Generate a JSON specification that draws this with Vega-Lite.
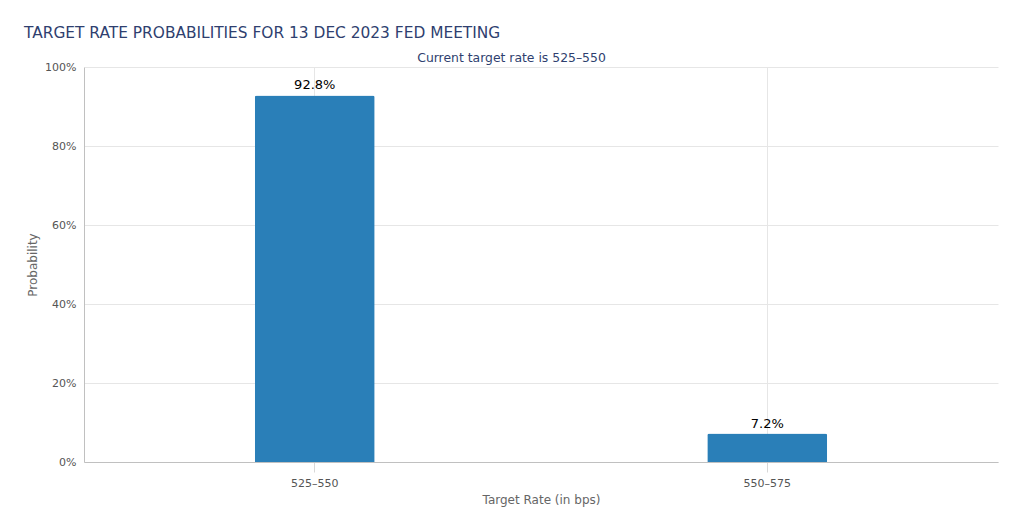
{
  "$schema": "https://vega.github.io/schema/vega-lite/v6.json",
  "width": 914,
  "height": 395,
  "autosize": {"type": "none"},
  "padding": {"left": 84, "top": 67, "right": 26, "bottom": 66},
  "background": "white",
  "config": {
    "font": "DejaVu Sans",
    "view": {"stroke": null},
    "axis": {"labelFont": "DejaVu Sans", "titleFont": "DejaVu Sans"}
  },
  "title": {
    "text": "TARGET RATE PROBABILITIES FOR 13 DEC 2023 FED MEETING",
    "anchor": "start",
    "frame": "group",
    "dx": -60,
    "offset": 10,
    "fontSize": 15.4,
    "fontWeight": "normal",
    "color": "#2f3f6f",
    "font": "DejaVu Sans"
  },
  "data": {
    "values": [
      {"rate": "525-550", "label": "525–550", "prob": 0.928, "txt": "92.8%"},
      {"rate": "550-575", "label": "550–575", "prob": 0.072, "txt": "7.2%"}
    ]
  },
  "resolve": {"axis": {"x": "independent", "y": "independent"}},
  "layer": [
    {
      "mark": {"type": "bar", "color": "#2a7fb8", "width": {"band": 0.265}, "cornerRadiusTopLeft": 2, "cornerRadiusTopRight": 2},
      "encoding": {
        "x": {
          "field": "label", "type": "nominal", "sort": null,
          "scale": {"paddingInner": 0, "paddingOuter": 0.01},
          "axis": {
            "title": "Target Rate (in bps)", "labelAngle": 0, "labelFontSize": 11, "labelColor": "#555555",
            "labelPadding": 5, "titleFontSize": 12, "titleFontWeight": "normal", "titleColor": "#666666",
            "titlePadding": 6, "domainColor": "#c0c0c0", "tickColor": "#d8d8d8", "tickSize": 10,
            "grid": true, "gridColor": "#e6e6e6", "bandPosition": 0.5
          }
        },
        "y": {
          "field": "prob", "type": "quantitative",
          "scale": {"domain": [0, 1], "nice": false},
          "axis": {
            "title": "Probability", "format": ".0%", "values": [0, 0.2, 0.4, 0.6, 0.8, 1],
            "labelFontSize": 11, "labelColor": "#555555", "labelPadding": 8,
            "titleFontSize": 12, "titleFontWeight": "normal", "titleColor": "#666666", "titlePadding": 5,
            "domainColor": "#c0c0c0", "ticks": false, "gridColor": "#e6e6e6"
          }
        }
      }
    },
    {
      "mark": {"type": "text", "baseline": "bottom", "dy": -3, "fontSize": 13, "color": "#000000"},
      "encoding": {
        "x": {
          "field": "label", "type": "nominal", "sort": null,
          "axis": {
            "orient": "top", "labels": false, "ticks": false, "domain": false, "grid": false,
            "title": "Current target rate is 525–550",
            "titleAnchor": "middle", "titleAlign": "center", "titleBaseline": "alphabetic",
            "titleX": 427, "titleY": -6, "titleFontSize": 12.4, "titleFontWeight": "normal",
            "titleColor": "#2f3f6f"
          }
        },
        "y": {"field": "prob", "type": "quantitative", "axis": null},
        "text": {"field": "txt"}
      }
    }
  ]
}
